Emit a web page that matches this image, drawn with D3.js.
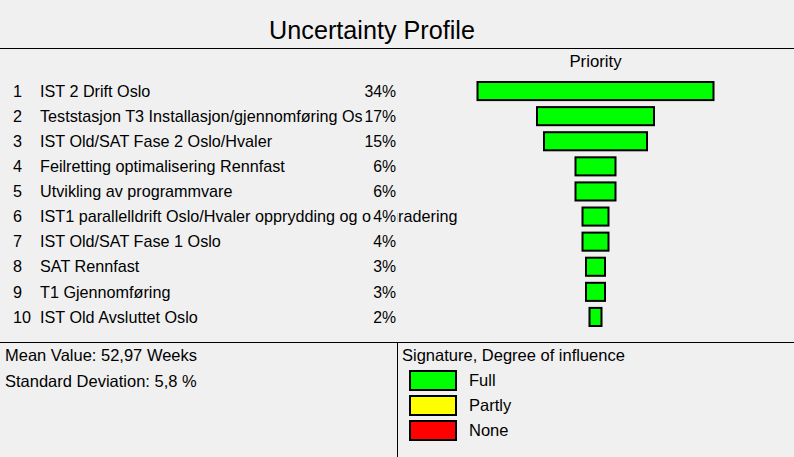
<!DOCTYPE html>
<html><head><meta charset="utf-8">
<script src="https://cdn.jsdelivr.net/npm/d3@7"></script>
<style>html,body{margin:0;padding:0;background:#f0f0f0;}svg{display:block;font-family:Arial,"Liberation Sans",sans-serif;}</style>
</head><body>
<script>
const ranks = [1,2,3,4,5,6,7,8,9,10];
const labels = [
  "IST 2 Drift Oslo",
  "Teststasjon T3 Installasjon/gjennomføring Oslo",
  "IST Old/SAT Fase 2 Oslo/Hvaler",
  "Feilretting optimalisering Rennfast",
  "Utvikling av programmvare",
  "IST1 parallelldrift Oslo/Hvaler opprydding og oppgradering",
  "IST Old/SAT Fase 1 Oslo",
  "SAT Rennfast",
  "T1 Gjennomføring",
  "IST Old Avsluttet Oslo"
];
const values = [34,17,15,6,6,4,4,3,3,2];
const influence = ["Full","Full","Full","Full","Full","Full","Full","Full","Full","Full"];
const legendLabels = ["Full","Partly","None"];
const legendColors = ["#00ff00","#ffff00","#ff0000"];
const title = "Uncertainty Profile";
const stats = ["Mean Value: 52,97 Weeks","Standard Deviation: 5,8 %"];

const W = 794, H = 457, bg = "#f0f0f0", fs = 16.2, fp = 15.8;
const svg = d3.select("body").append("svg").attr("width", W).attr("height", H);
svg.append("rect").attr("width", W).attr("height", H).attr("fill", bg);

svg.append("text").attr("x", 372).attr("y", 39).attr("text-anchor","middle")
  .attr("font-size", 25.2).text(title);
svg.append("line").attr("x1",0).attr("x2",W).attr("y1",48.5).attr("y2",48.5).attr("stroke","#000");
svg.append("line").attr("x1",0).attr("x2",W).attr("y1",342.5).attr("y2",342.5).attr("stroke","#000");
svg.append("line").attr("x1",397.5).attr("x2",397.5).attr("y1",342).attr("y2",H).attr("stroke","#000");

const cx = 595.5;
svg.append("text").attr("x", cx).attr("y", 67).attr("text-anchor","middle").attr("font-size",16.8).text("Priority");

const y = d3.scaleBand().domain(d3.range(values.length)).range([78.5, 329.5]).paddingInner(0.2).paddingOuter(0.1);
const w = d3.scaleLinear().domain([0, 34]).range([0, 238]);
const colorOf = d3.scaleOrdinal().domain(legendLabels).range(legendColors);

const rows = svg.append("g").selectAll("g").data(values).join("g")
  .attr("transform", (d,i) => `translate(0,${y(i) + y.bandwidth()/2})`);

rows.append("text").attr("x", 13).attr("y", 5.7).attr("font-size", fs).text((d,i) => ranks[i]);
rows.append("text").attr("x", 40).attr("y", 5.7).attr("font-size", fs).text((d,i) => labels[i]);
rows.each(function(d,i){
  const g = d3.select(this);
  const t = g.append("text").attr("x", 396).attr("y", 5.7).attr("text-anchor","end")
    .attr("font-size", fp).text(d3.format("d")(d) + "%");
  const bb = t.node().getBBox();
  g.insert("rect", function(){ return t.node(); })
    .attr("x", bb.x - 2).attr("y", -11).attr("width", bb.width + 3).attr("height", 22).attr("fill", bg);
});
rows.append("rect")
  .attr("x", d => cx - w(d)/2 + 1).attr("y", -y.bandwidth()/2 + 1)
  .attr("width", d => w(d) - 2).attr("height", y.bandwidth() - 2)
  .attr("fill", (d,i) => colorOf(influence[i])).attr("stroke", "#000").attr("stroke-width", 2);

svg.selectAll("text.stat").data(stats).join("text").attr("class","stat")
  .attr("x", 5).attr("y", (d,i) => 361 + i*25.5).attr("font-size", 16.5).text(d => d);

svg.append("text").attr("x", 402).attr("y", 361).attr("font-size", 16.5).text("Signature, Degree of influence");
const lg = svg.append("g").selectAll("g").data(legendLabels).join("g")
  .attr("transform", (d,i) => `translate(0,${370 + i*25})`);
lg.append("rect").attr("x", 410).attr("y", 1).attr("width", 46).attr("height", 19)
  .attr("fill", d => colorOf(d)).attr("stroke","#000").attr("stroke-width", 2);
lg.append("text").attr("x", 469).attr("y", 16).attr("font-size", 16.5).text(d => d);
</script>
</body></html>
